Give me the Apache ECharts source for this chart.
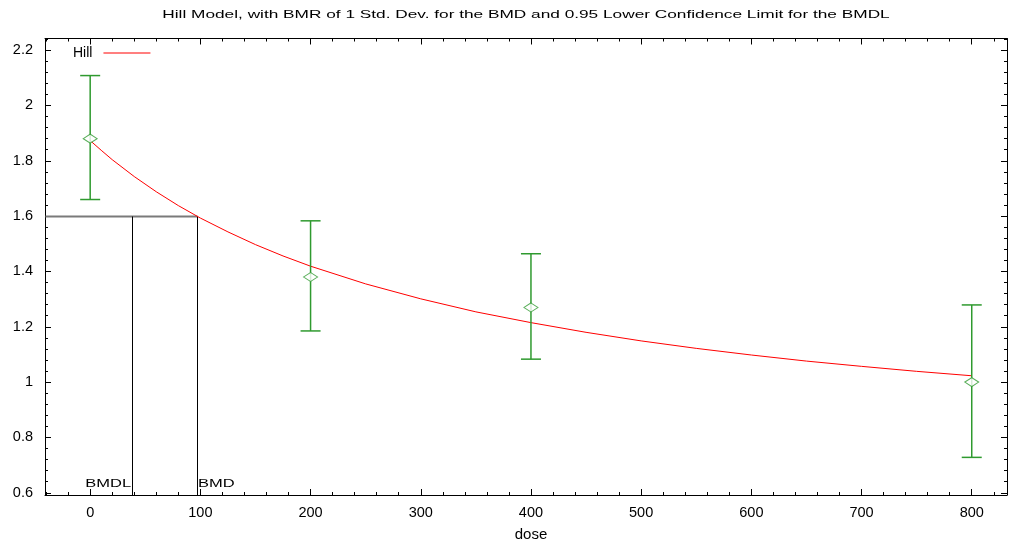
<!DOCTYPE html>
<html>
<head>
<meta charset="utf-8">
<script src="https://cdn.jsdelivr.net/npm/echarts@6/dist/echarts.min.js"></script>
<style>
  html, body { margin: 0; padding: 0; background: #fff; }
  #chart { width: 1010px; height: 540px; }
</style>
</head>
<body>
<div id="chart"></div>
<script>
// Observed group means with error-bar limits
const doses = [0, 200, 400, 800];
const means = [1.88, 1.38, 1.27, 1.0];
const lowerLimits = [1.66, 1.185, 1.083, 0.728];
const upperLimits = [2.108, 1.583, 1.464, 1.279];

// Fitted Hill model response
const curveDose = [0, 10, 20, 40, 60, 80, 100, 125, 150, 175, 200, 250, 300, 350, 400, 450, 500, 550, 600, 650, 700, 750, 800];
const curveResp = [1.873, 1.838, 1.804, 1.743, 1.688, 1.638, 1.593, 1.543, 1.497, 1.456, 1.419, 1.355, 1.301, 1.254, 1.215, 1.180, 1.149, 1.122, 1.098, 1.076, 1.057, 1.039, 1.023];

// Benchmark dose markers
const bmrLevel = 1.6;
const bmd = 97;
const bmdl = 38;

// Tick labels
const xTicks = [0, 100, 200, 300, 400, 500, 600, 700, 800];
const yTicks = [0.6, 0.8, 1, 1.2, 1.4, 1.6, 1.8, 2, 2.2];

const titleText = 'Hill Model, with BMR of 1 Std. Dev. for the BMD and 0.95 Lower Confidence Limit for the BMDL';

const X_MIN = -41, X_MAX = 832;
const Y_MIN = 0.592, Y_MAX = 2.242;

const xMinor = [];
for (let v = -40; v <= 820; v += 20) xMinor.push(v);
const yMinor = [];
for (let i = 0; i <= 41; i++) yMinor.push(+(0.6 + i * 0.04).toFixed(2));

const font = 'Liberation Sans, Arial, Helvetica, sans-serif';
const green = '#2f9a2f';
const WIDE = 1.5;   // horizontal stretch of the plot lettering

function xAxisDef(pos, major, showLabel) {
  return {
    type: 'value', position: pos, min: X_MIN, max: X_MAX,
    axisLine: { show: major, onZero: false, lineStyle: { color: '#000', width: 1 } },
    axisTick: { show: true, inside: true, length: major ? 6 : 3, customValues: major ? xTicks : xMinor,
                lineStyle: { color: '#000' } },
    axisLabel: { show: showLabel, customValues: xTicks, color: '#000', fontSize: 14.5, fontFamily: font, margin: 10 },
    splitLine: { show: false }
  };
}
function yAxisDef(pos, major, showLabel) {
  return {
    type: 'value', position: pos, min: Y_MIN, max: Y_MAX,
    axisLine: { show: major, onZero: false, lineStyle: { color: '#000', width: 1 } },
    axisTick: { show: true, inside: true, length: major ? 6 : 3, customValues: major ? yTicks : yMinor,
                lineStyle: { color: '#000' } },
    axisLabel: { show: showLabel, customValues: yTicks, color: '#000', fontSize: 14.5, fontFamily: font, margin: 12,
                 formatter: v => String(+v.toFixed(2)) },
    splitLine: { show: false }
  };
}

const xMain = xAxisDef('bottom', true, true);
xMain.name = 'dose';
xMain.nameLocation = 'middle';
xMain.nameGap = 32;
xMain.nameTextStyle = { color: '#000', fontSize: 15, fontFamily: font, padding: [0, 0, 0, 10] };

// Crisp straight segment between two data points
function segment(api, a, b, style) {
  const p = api.coord(a), q = api.coord(b);
  const snap = v => Math.round(v) + 0.5;
  return { type: 'line', shape: { x1: snap(p[0]), y1: snap(p[1]), x2: snap(q[0]), y2: snap(q[1]) }, style: style };
}
// Horizontally widened text element
function wideText(x, y, text, align, size) {
  return {
    type: 'text', x: x, y: y, scaleX: WIDE,
    style: { text: text, fill: '#000', font: size + 'px ' + font, textAlign: align, textVerticalAlign: 'middle' }
  };
}

const chart = echarts.init(document.getElementById('chart'));
chart.setOption({
  animation: false,
  backgroundColor: '#fff',
  graphic: [
    Object.assign(wideText(526, 15, titleText, 'center', 11.5), { silent: true })
  ],
  legend: {
    data: ['Hill'], left: 68, top: 41, align: 'right',
    itemWidth: 47, itemHeight: 1, icon: 'rect',
    textStyle: { fontSize: 14, color: '#000', fontFamily: font, padding: [0, 6, 0, 0] }
  },
  grid: { left: 45, right: 3, top: 38.5, bottom: 45, containLabel: false, outerBoundsMode: 'none' },
  xAxis: [xMain, xAxisDef('bottom', false, false), xAxisDef('top', true, false), xAxisDef('top', false, false)],
  yAxis: [yAxisDef('left', true, true), yAxisDef('left', false, false), yAxisDef('right', true, false), yAxisDef('right', false, false)],
  series: [
    {
      name: 'BMD lines', type: 'custom', silent: true,
      data: [[bmd, bmdl, bmrLevel]],
      renderItem: function (params, api) {
        const d = api.value(0), dl = api.value(1), r = api.value(2);
        const pD = api.coord([d, 0.6]), pL = api.coord([dl, 0.6]);
        return {
          type: 'group',
          children: [
            segment(api, [X_MIN, r], [d, r], { stroke: '#7a7a7a', lineWidth: 2 }),
            segment(api, [d, r], [d, Y_MIN], { stroke: '#000', lineWidth: 1 }),
            segment(api, [dl, r], [dl, Y_MIN], { stroke: '#000', lineWidth: 1 }),
            wideText(pL[0] - 1, pL[1] - 9, 'BMDL', 'right', 11),
            wideText(pD[0] + 1, pD[1] - 9, 'BMD', 'left', 11)
          ]
        };
      },
      z: 2
    },
    {
      name: 'Hill', type: 'line', symbol: 'none', smooth: false,
      data: curveDose.map((d, i) => [d, curveResp[i]]),
      lineStyle: { color: '#ff0000', width: 1 }, itemStyle: { color: '#ff0000' }, z: 5
    },
    {
      name: 'Error bars', type: 'custom', silent: true,
      data: doses.map((d, i) => [d, lowerLimits[i], upperLimits[i]]),
      renderItem: function (params, api) {
        const x = api.value(0), lo = api.value(1), hi = api.value(2);
        const loPt = api.coord([x, lo]), hiPt = api.coord([x, hi]);
        const hw = 10;
        const style = { stroke: green, lineWidth: 1.5 };
        return {
          type: 'group',
          children: [
            { type: 'line', shape: { x1: loPt[0], y1: loPt[1], x2: hiPt[0], y2: hiPt[1] }, style: style },
            { type: 'line', shape: { x1: loPt[0] - hw, y1: loPt[1], x2: loPt[0] + hw, y2: loPt[1] }, style: style },
            { type: 'line', shape: { x1: hiPt[0] - hw, y1: hiPt[1], x2: hiPt[0] + hw, y2: hiPt[1] }, style: style }
          ]
        };
      },
      z: 6
    },
    {
      name: 'Mean', type: 'scatter', silent: true, symbol: 'diamond', symbolSize: [14, 9],
      data: doses.map((d, i) => [d, means[i]]),
      itemStyle: { color: '#fff', borderColor: green, borderWidth: 1 }, z: 7
    }
  ]
});
</script>
</body>
</html>
